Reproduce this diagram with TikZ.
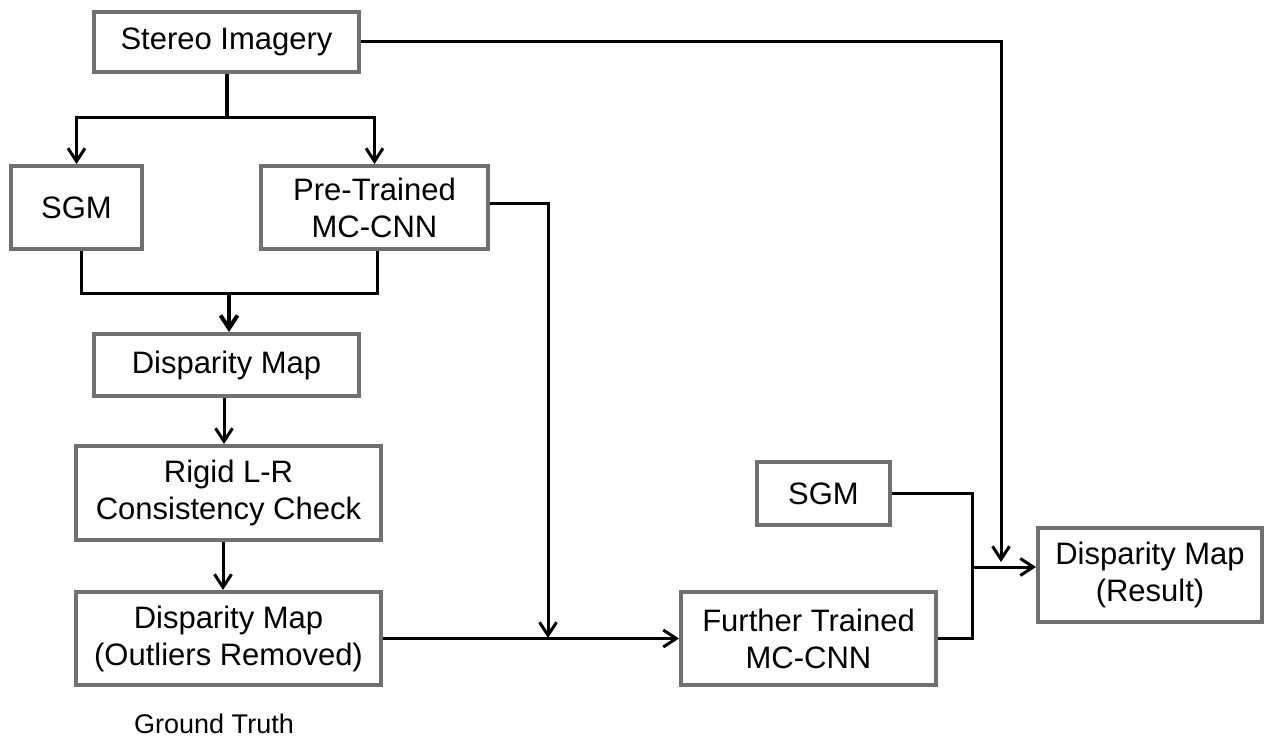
\documentclass[tikz,border=0pt]{standalone}
\usepackage{fontspec}
\setmainfont{Liberation Sans}
\usetikzlibrary{arrows.meta,calc}
\definecolor{boxgray}{RGB}{112,112,112}
\begin{document}
\begin{tikzpicture}[x=1pt,y=-1pt,
  box/.style={draw=boxgray, line width=4pt, fill=white, align=center,
    inner sep=0pt, font=\fontsize{31}{37}\selectfont},
  wire/.style={line width=3pt, black},
  conn/.style={wire, -{Straight Barb[length=13pt,width=17pt]}},
  thickconn/.style={line width=4pt, -{Straight Barb[length=13pt,width=17pt]}},
  caption/.style={font=\fontsize{27}{32}\selectfont, inner sep=0pt}]
\useasboundingbox (0,0) rectangle (1266,738);

% processing blocks
\node[box, minimum width=265pt, minimum height=60pt] (stereo) at (226.5,42) {Stereo Imagery};
\node[box, minimum width=131pt, minimum height=83pt] (sgmA) at (76.5,207.5) {SGM};
\node[box, minimum width=227pt, minimum height=83pt] (pre) at (374.5,207.5) {Pre-Trained\\MC-CNN};
\node[box, minimum width=265pt, minimum height=62pt] (disp) at (226.5,365) {Disparity Map};
\node[box, minimum width=305pt, minimum height=94pt] (rigid) at (228.5,493) {Rigid L-R\\Consistency Check};
\node[box, minimum width=305pt, minimum height=93pt] (clean) at (228.5,638.5) {Disparity Map\\(Outliers Removed)};
\node[box, minimum width=255pt, minimum height=93pt] (further) at (808.5,638.5) {Further Trained\\MC-CNN};
\node[box, minimum width=133pt, minimum height=63pt] (sgmB) at (823.5,493.5) {SGM};
\node[box, minimum width=224pt, minimum height=94pt] (result) at (1150,575) {Disparity Map\\(Result)};
\node[caption, anchor=base] (gt) at (214,733) {Ground Truth};

% junction points
\coordinate (split) at (226.5,118);
\coordinate (merge) at (229,293);
\coordinate (jA) at (548,638);
\coordinate (jB) at (972,567);
\coordinate (jC) at (1001,562);

% stereo imagery fans out to both matchers
\draw[line width=4pt] (stereo.south) -- (split);
\draw[conn] (split) -| (sgmA.north);
\draw[conn] (split) -| (pre.north);

% both matchers combine into the disparity map
\draw[wire] ([xshift=4.5pt]sgmA.south) |- (merge);
\draw[wire] ([xshift=2.5pt]pre.south) |- (merge);
\draw[thickconn] (merge) -- (merge |- disp.north);

% consistency check chain
\draw[conn] ([xshift=-2.5pt]disp.south) -- ([xshift=-2.5pt]disp.south |- rigid.north);
\draw[conn] ([xshift=-5.5pt]rigid.south) -- ([xshift=-5.5pt]rigid.south |- clean.north);

% training of the further trained network
\draw[conn] ([yshift=3.5pt]pre.east) -| (jA);
\draw[conn] (clean.east) -- (further.west);

% final matching
\draw[wire] (sgmB.east) -| (jB);
\draw[wire] (further.east) -| (jB);
\draw[conn] (jB) -- (jB -| result.west);
\draw[conn] (stereo.east) -| (jC);
\end{tikzpicture}
\end{document}
